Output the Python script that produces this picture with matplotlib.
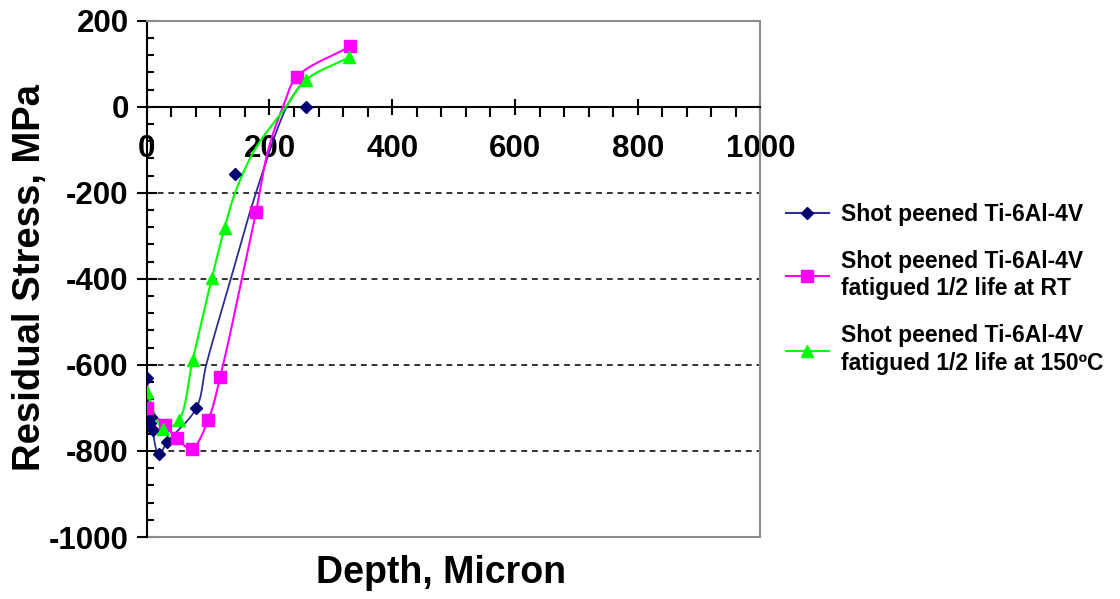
import numpy as np
import matplotlib.pyplot as plt
from matplotlib.lines import Line2D

plt.rcParams['font.family'] = ['Liberation Sans', 'DejaVu Sans']
plt.rcParams['font.weight'] = 'bold'
plt.rcParams['axes.unicode_minus'] = False

# data
blue_x = [0, 5, 7, 10, 20, 33, 81, 144, 260]
blue_y = [-630, -736, -720, -752, -808, -780, -700, -157, 0]
# blue line is a smoothed fit, not through every marker
blue_line_x = [0, 7, 20, 33, 81, 97, 137, 178, 228, 255]
blue_line_y = [-630, -730, -808, -780, -700, -600, -400, -200, 0, 60]

pink_x = [0, 29, 49, 73, 100, 120, 178, 245, 331]
pink_y = [-700, -740, -771, -795, -729, -627, -245, 70, 140]
# path of the pink line (markers plus points)
pink_line_x = [0, 29, 49, 73, 100, 120, 155, 178, 198, 222, 245, 331]
pink_line_y = [-700, -740, -771, -795, -729, -627, -400, -245, -100, 0, 70, 140]

green_x = [0, 27, 52, 75, 106, 127, 259, 330]
green_y = [-664, -748, -729, -588, -399, -281, 62, 115]
green_line_x = [0, 27, 52, 75, 106, 127, 144, 176, 227, 259, 330]
green_line_y = [-664, -748, -729, -588, -399, -281, -200, -100, 0, 62, 115]

labels = ['Shot peened Ti-6Al-4V',
          'Shot peened Ti-6Al-4V\nfatigued 1/2 life at RT',
          'Shot peened Ti-6Al-4V\nfatigued 1/2 life at 150\u00baC']


def smooth(x, y, n=25, yscale=0.7, alpha=0.5):
    # centripetal catmull-rom through the points (smoothed line)
    P = np.column_stack([np.asarray(x, float), np.asarray(y, float) * yscale])
    P = np.vstack([2 * P[0] - P[1], P, 2 * P[-1] - P[-2]])
    out = []
    for i in range(1, len(P) - 2):
        p0, p1, p2, p3 = P[i - 1], P[i], P[i + 1], P[i + 2]
        t0 = 0.0
        t1 = t0 + np.linalg.norm(p1 - p0) ** alpha
        t2 = t1 + np.linalg.norm(p2 - p1) ** alpha
        t3 = t2 + np.linalg.norm(p3 - p2) ** alpha
        t = np.linspace(t1, t2, n)[:, None]
        a1 = (t1 - t) / (t1 - t0) * p0 + (t - t0) / (t1 - t0) * p1
        a2 = (t2 - t) / (t2 - t1) * p1 + (t - t1) / (t2 - t1) * p2
        a3 = (t3 - t) / (t3 - t2) * p2 + (t - t2) / (t3 - t2) * p3
        b1 = (t2 - t) / (t2 - t0) * a1 + (t - t0) / (t2 - t0) * a2
        b2 = (t3 - t) / (t3 - t1) * a2 + (t - t1) / (t3 - t1) * a3
        c = (t2 - t) / (t2 - t1) * b1 + (t - t1) / (t2 - t1) * b2
        out.append(c)
    out = np.vstack(out)
    return out[:, 0], out[:, 1] / yscale


fig = plt.figure(figsize=(11.2, 5.99), dpi=100)
ax = fig.add_axes([0.131, 0.1035, 0.548, 0.862])

ax.set_xlim(0, 1000)
ax.set_ylim(-1000, 200)

for yv in [-200, -400, -600, -800]:
    ax.axhline(yv, color='#333333', lw=1.4, ls=(0, (3, 2.5)), zorder=1)

sx, sy = smooth(blue_line_x, blue_line_y)
ax.plot(sx, sy, color='#2e2e90', lw=1.3, zorder=3)
ax.plot(blue_x, blue_y, ls='none', marker='D', ms=6, color='#000070', zorder=4)

sx, sy = smooth(pink_line_x, pink_line_y)
ax.plot(sx, sy, color='#ff00ff', lw=1.5, zorder=3)
ax.plot(pink_x, pink_y, ls='none', marker='s', ms=8, color='#ff00ff', zorder=4)

sx, sy = smooth(green_line_x, green_line_y)
ax.plot(sx, sy, color='#00ff00', lw=1.5, zorder=3)
ax.plot(green_x, green_y, ls='none', marker='^', ms=9, color='#00ff00', zorder=4)

# axes styling
ax.spines['bottom'].set_position(('data', 0))
ax.spines['bottom'].set_color('black')
ax.spines['bottom'].set_linewidth(1.5)
ax.spines['left'].set_linewidth(1.5)
for s in ['top', 'right']:
    ax.spines[s].set_color('#8c8c8c')
    ax.spines[s].set_linewidth(1.5)
ax.add_line(Line2D([0, 1], [0, 0], transform=ax.transAxes, color='#8c8c8c',
                   lw=1.5, clip_on=False))

ax.set_xticks(np.arange(0, 1001, 200))
ax.set_xticks(np.arange(0, 1001, 40), minor=True)
ax.set_yticks(np.arange(-1000, 201, 200))
ax.set_yticks(np.arange(-1000, 201, 40), minor=True)
ax.tick_params(axis='x', which='major', direction='inout', length=12, width=1.5,
               labelsize=22.5, pad=14)
ax.tick_params(axis='x', which='minor', direction='out', length=7, width=1.5)
ax.tick_params(axis='y', which='major', direction='inout', length=14, width=1.5,
               labelsize=22.5, pad=6)
ax.tick_params(axis='y', which='minor', direction='in', length=5, width=1.5)
for lab in ax.get_xticklabels() + ax.get_yticklabels():
    lab.set_fontweight('bold')

fig.text(0.394, 0.043, 'Depth, Micron', ha='center', va='center',
         fontsize=27, fontweight='bold')
fig.text(0.027, 0.537, 'Residual Stress, MPa', ha='center', va='center',
         rotation=90, fontsize=27.5, fontweight='bold')

handles = [
    Line2D([], [], color='#2e2e90', lw=1.5, marker='D', ms=6, mfc='#000070', mec='#000070'),
    Line2D([], [], color='#ff00ff', lw=1.5, marker='s', ms=8),
    Line2D([], [], color='#00ff00', lw=1.5, marker='^', ms=9),
]
leg = fig.legend(handles, labels, loc='upper left', bbox_to_anchor=(0.683, 0.696),
                 frameon=False, prop={'size': 16.5, 'weight': 'bold'},
                 handlelength=1.9, handletextpad=0.5, labelspacing=1.05)
for txt in leg.get_texts():
    txt.set_linespacing(1.25)

fig.savefig('out.png', dpi=100)
